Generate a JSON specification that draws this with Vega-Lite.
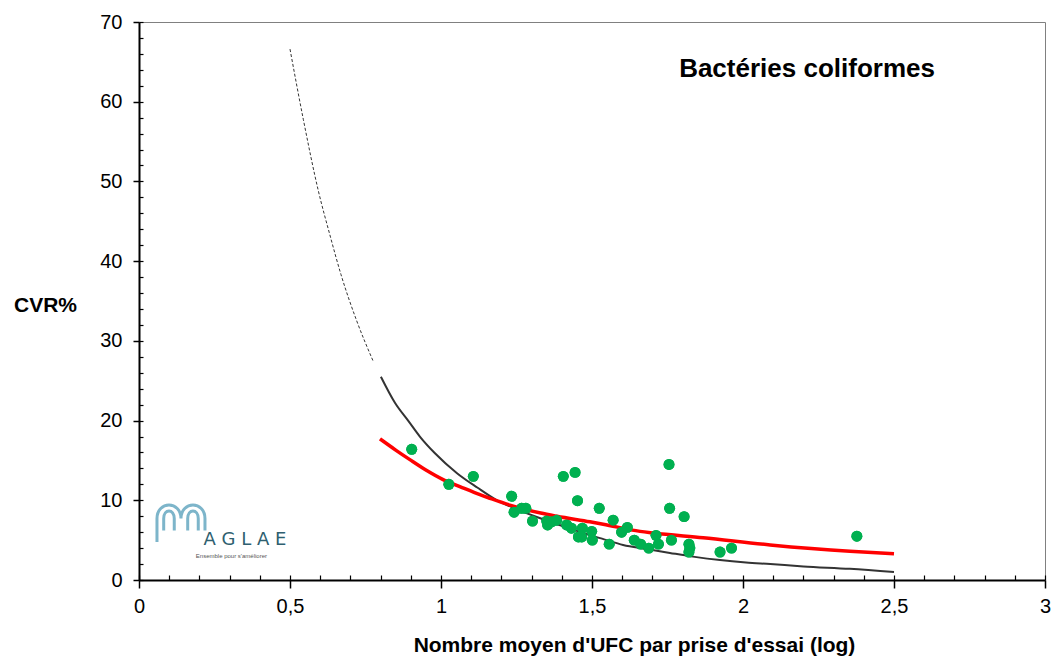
{
  "$schema": "https://vega.github.io/schema/vega-lite/v6.json",
  "width": 906,
  "height": 558,
  "autosize": {"type": "none"},
  "padding": {"left": 139, "top": 22, "right": 10, "bottom": 77},
  "background": "white",
  "config": {"view": {"stroke": "#808080", "strokeWidth": 1}, "font": "Liberation Sans"},
  "datasets": {
    "pts": [
      {"x":0.903,"y":16.4},{"x":1.026,"y":12.0},{"x":1.107,"y":13.0},{"x":1.234,"y":10.5},{"x":1.242,"y":8.5},
      {"x":1.267,"y":9.0},{"x":1.281,"y":9.0},{"x":1.303,"y":7.4},{"x":1.35,"y":7.4},{"x":1.353,"y":6.9},
      {"x":1.366,"y":7.3},{"x":1.383,"y":7.5},{"x":1.405,"y":13.0},{"x":1.444,"y":13.5},{"x":1.452,"y":9.95},
      {"x":1.416,"y":6.9},{"x":1.432,"y":6.5},{"x":1.455,"y":5.4},{"x":1.468,"y":6.5},{"x":1.466,"y":5.4},
      {"x":1.499,"y":6.1},{"x":1.501,"y":5.0},{"x":1.524,"y":9.0},{"x":1.557,"y":4.5},{"x":1.57,"y":7.5},
      {"x":1.598,"y":6.0},{"x":1.617,"y":6.6},{"x":1.64,"y":5.0},{"x":1.661,"y":4.5},{"x":1.688,"y":4.0},
      {"x":1.712,"y":5.6},{"x":1.72,"y":4.5},{"x":1.755,"y":14.5},{"x":1.757,"y":9.0},{"x":1.763,"y":5.0},
      {"x":1.805,"y":7.95},{"x":1.821,"y":4.5},{"x":1.824,"y":4.0},{"x":1.821,"y":3.5},{"x":1.924,"y":3.5},
      {"x":1.962,"y":4.0},{"x":2.377,"y":5.5}
    ],
    "blackDashed": [
      {"x":0.5,"y":66.6},{"x":0.544,"y":57.8},{"x":0.594,"y":48.8},{"x":0.632,"y":43.3},
      {"x":0.669,"y":38.3},{"x":0.721,"y":32.5},{"x":0.776,"y":27.4}
    ],
    "blackSolid": [
      {"x":0.801,"y":25.5},{"x":0.848,"y":22.2},{"x":0.893,"y":19.9},{"x":0.93,"y":18.0},{"x":0.98,"y":15.9},
      {"x":1.053,"y":13.4},{"x":1.12,"y":11.6},{"x":1.185,"y":10.0},{"x":1.25,"y":8.9},{"x":1.317,"y":7.9},
      {"x":1.4,"y":6.8},{"x":1.47,"y":5.9},{"x":1.54,"y":5.1},{"x":1.603,"y":4.4},{"x":1.68,"y":3.9},
      {"x":1.758,"y":3.4},{"x":1.84,"y":2.9},{"x":1.924,"y":2.5},{"x":2.01,"y":2.2},{"x":2.09,"y":2.0},
      {"x":2.2,"y":1.7},{"x":2.354,"y":1.4},{"x":2.5,"y":1.0}
    ],
    "red": [
      {"x":0.798,"y":17.7},{"x":0.85,"y":16.3},{"x":0.897,"y":15.1},{"x":0.95,"y":13.8},{"x":1.007,"y":12.6},
      {"x":1.07,"y":11.6},{"x":1.129,"y":10.7},{"x":1.162,"y":10.25},{"x":1.228,"y":9.4},{"x":1.33,"y":8.4},
      {"x":1.384,"y":8.0},{"x":1.493,"y":7.3},{"x":1.537,"y":7.0},{"x":1.659,"y":6.1},{"x":1.702,"y":5.9},
      {"x":1.868,"y":5.3},{"x":2.09,"y":4.4},{"x":2.354,"y":3.6},{"x":2.5,"y":3.3}
    ],
    "title": [{"x":2.212,"y":63.1,"t":"Bactéries coliformes"}],
    "logoText": [{"x":0.351,"y":4.39,"t":"A G L A E"}],
    "logoTag": [{"x":0.306,"y":2.7,"t":"Ensemble pour s'améliorer"}],
    "logoArch": [{"x":0.139,"y":7.1}]
  },
  "layer": [
    {
      "data": {"name": "pts"},
      "mark": {"type": "circle", "size": 120, "color": "#00B050", "opacity": 1},
      "encoding": {
        "x": {"field": "x", "type": "quantitative", "scale": {"domain": [0, 3], "nice": false, "zero": false},
          "axis": {"orient": "bottom", "values": [0, 0.5, 1, 1.5, 2, 2.5, 3], "labelExpr": "replace(toString(datum.value), '.', ',')",
            "tickSize": 8, "tickWidth": 1.5, "tickColor": "black", "domainColor": "black", "domainWidth": 2,
            "labelFontSize": 20, "labelFont": "Liberation Sans", "labelColor": "black", "labelPadding": 8,
            "labelFlush": false, "labelOverlap": false, "grid": false,
            "title": "Nombre moyen d'UFC par prise d'essai (log)", "titleFont": "Liberation Sans", "titleFontSize": 21,
            "titleFontWeight": "bold", "titleColor": "black", "titleX": 495, "titleY": 71, "titleBaseline": "alphabetic", "titleAlign": "center"}},
        "y": {"field": "y", "type": "quantitative", "scale": {"domain": [0, 70], "nice": false, "zero": false},
          "axis": {"orient": "left", "values": [0, 10, 20, 30, 40, 50, 60, 70],
            "tickSize": 6, "tickWidth": 1.5, "tickColor": "black", "domainColor": "black", "domainWidth": 2,
            "labelFontSize": 20, "labelFont": "Liberation Sans", "labelColor": "black", "labelPadding": 11,
            "labelFlush": false, "labelOverlap": false, "grid": false,
            "title": "CVR%", "titleFont": "Liberation Sans", "titleFontSize": 21, "titleFontWeight": "bold", "titleColor": "black",
            "titleAngle": 0, "titleX": -94, "titleY": 289, "titleBaseline": "alphabetic", "titleAlign": "center"}}
      }
    },
    {
      "data": {"name": "blackDashed"},
      "mark": {"type": "line", "color": "#333333", "strokeWidth": 1, "strokeDash": [3, 2], "interpolate": "monotone"},
      "encoding": {
        "x": {"field": "x", "type": "quantitative", "scale": {"domain": [0, 3], "nice": false, "zero": false},
          "axis": {"orient": "bottom", "values": [0,0.1,0.2,0.3,0.4,0.5,0.6,0.7,0.8,0.9,1,1.1,1.2,1.3,1.4,1.5,1.6,1.7,1.8,1.9,2,2.1,2.2,2.3,2.4,2.5,2.6,2.7,2.8,2.9,3],
            "tickSize": -5, "tickWidth": 1.2, "tickColor": "black", "domain": false, "labels": false, "grid": false, "title": null}},
        "y": {"field": "y", "type": "quantitative", "scale": {"domain": [0, 70], "nice": false, "zero": false},
          "axis": {"orient": "left", "values": [0,2,4,6,8,10,12,14,16,18,20,22,24,26,28,30,32,34,36,38,40,42,44,46,48,50,52,54,56,58,60,62,64,66,68,70],
            "tickSize": -4, "tickWidth": 1.2, "tickColor": "black", "domain": false, "labels": false, "grid": false, "title": null}}
      }
    },
    {
      "data": {"name": "blackSolid"},
      "mark": {"type": "line", "color": "#333333", "strokeWidth": 2, "interpolate": "monotone"},
      "encoding": {
        "x": {"field": "x", "type": "quantitative", "scale": {"domain": [0, 3], "nice": false, "zero": false}, "axis": null},
        "y": {"field": "y", "type": "quantitative", "scale": {"domain": [0, 70], "nice": false, "zero": false}, "axis": null}
      }
    },
    {
      "data": {"name": "red"},
      "mark": {"type": "line", "color": "#FF0000", "strokeWidth": 3.5, "interpolate": "monotone"},
      "encoding": {
        "x": {"field": "x", "type": "quantitative", "scale": {"domain": [0, 3], "nice": false, "zero": false}, "axis": null},
        "y": {"field": "y", "type": "quantitative", "scale": {"domain": [0, 70], "nice": false, "zero": false}, "axis": null}
      }
    },
    {
      "data": {"name": "pts"},
      "mark": {"type": "circle", "size": 120, "color": "#00B050", "opacity": 1},
      "encoding": {
        "x": {"field": "x", "type": "quantitative", "scale": {"domain": [0, 3], "nice": false, "zero": false}, "axis": null},
        "y": {"field": "y", "type": "quantitative", "scale": {"domain": [0, 70], "nice": false, "zero": false}, "axis": null}
      }
    },
    {
      "data": {"name": "title"},
      "mark": {"type": "text", "font": "Liberation Sans", "fontSize": 26, "fontWeight": "bold", "color": "black", "align": "center", "baseline": "alphabetic"},
      "encoding": {
        "x": {"field": "x", "type": "quantitative", "scale": {"domain": [0, 3], "nice": false, "zero": false}, "axis": null},
        "y": {"field": "y", "type": "quantitative", "scale": {"domain": [0, 70], "nice": false, "zero": false}, "axis": null},
        "text": {"field": "t"}
      }
    },
    {
      "data": {"name": "logoArch"},
      "mark": {"type": "point", "filled": false, "size": 2304, "stroke": "#7db5ca", "strokeWidth": 3, "opacity": 1,
        "shape": "M-1,0.77 L-1,-0.2 C-1,-0.95 0,-0.95 0,-0.2 C0,-0.95 1,-0.95 1,-0.2 L1,0.3 M-0.72,0.3 L-0.72,-0.2 C-0.72,-0.62 -0.28,-0.62 -0.28,-0.2 L-0.28,0.3 M0.28,0.3 L0.28,-0.2 C0.28,-0.62 0.72,-0.62 0.72,-0.2 L0.72,0.3"},
      "encoding": {
        "x": {"field": "x", "type": "quantitative", "scale": {"domain": [0, 3], "nice": false, "zero": false}, "axis": null},
        "y": {"field": "y", "type": "quantitative", "scale": {"domain": [0, 70], "nice": false, "zero": false}, "axis": null}
      }
    },
    {
      "data": {"name": "logoText"},
      "mark": {"type": "text", "font": "DejaVu Sans", "fontSize": 18, "color": "#2f5f70", "align": "center", "baseline": "alphabetic"},
      "encoding": {
        "x": {"field": "x", "type": "quantitative", "scale": {"domain": [0, 3], "nice": false, "zero": false}, "axis": null},
        "y": {"field": "y", "type": "quantitative", "scale": {"domain": [0, 70], "nice": false, "zero": false}, "axis": null},
        "text": {"field": "t"}
      }
    },
    {
      "data": {"name": "logoTag"},
      "mark": {"type": "text", "font": "Liberation Sans", "fontSize": 6, "color": "#555555", "align": "center", "baseline": "alphabetic"},
      "encoding": {
        "x": {"field": "x", "type": "quantitative", "scale": {"domain": [0, 3], "nice": false, "zero": false}, "axis": null},
        "y": {"field": "y", "type": "quantitative", "scale": {"domain": [0, 70], "nice": false, "zero": false}, "axis": null},
        "text": {"field": "t"}
      }
    }
  ],
  "resolve": {"axis": {"x": "independent", "y": "independent"}}
}
